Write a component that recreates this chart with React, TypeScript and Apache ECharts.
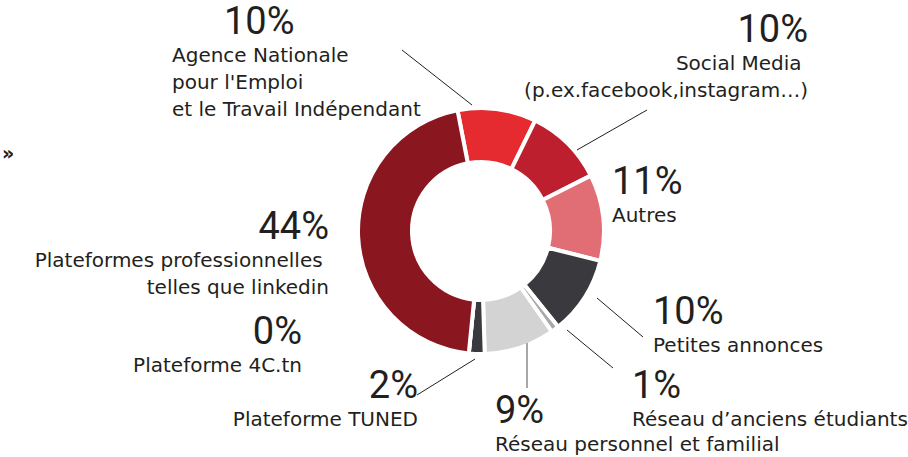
import React, { useEffect, useRef } from 'react';
import * as echarts from 'echarts';

// ---- data ----
const categories = [
  "Agence Nationale\npour l'Emploi\net le Travail Indépendant",
  "Social Media \n(p.ex.facebook,instagram…)",
  "Autres",
  "Petites annonces",
  "Réseau d’anciens étudiants",
  "Réseau personnel et familial",
  "Plateforme TUNED",
  "Plateforme 4C.tn",
  "Plateformes professionnelles \ntelles que linkedin",
];
const values = [10, 10, 11, 10, 1, 9, 2, 0, 44];

// ---- styles / layout ----
const colors = ['#e52a30', '#bd1f2e', '#e06e74', '#3a393d', '#a8a8a8', '#d2d3d2', '#3a393d', '#8a1620', '#8a1620'];
const labelPos = [
  { x: 172, y: 1, align: 'left', pad: 52 },
  { x: 808, y: 9, align: 'right', pad: 0 },
  { x: 612, y: 161, align: 'left', pad: 0 },
  { x: 653, y: 291, align: 'left', pad: 0 },
  { x: 632, y: 365, align: 'left', pad: 0 },
  { x: 495, y: 390, align: 'left', pad: 0 },
  { x: 418, y: 365, align: 'right', pad: 0 },
  { x: 302, y: 311, align: 'right', pad: 0 },
  { x: 329, y: 206, align: 'right', pad: 0 },
];
const leaderLines = [
  { x1: 402, y1: 50, x2: 472, y2: 105, color: '#231f20', w: 1 },
  { x1: 577, y1: 150, x2: 647, y2: 110, color: '#231f20', w: 1 },
  { x1: 597, y1: 298, x2: 643, y2: 337, color: '#231f20', w: 1 },
  { x1: 567, y1: 330, x2: 613, y2: 368, color: '#231f20', w: 1 },
  { x1: 527, y1: 343, x2: 527, y2: 388, color: '#8a8a8a', w: 1.5 },
  { x1: 417, y1: 395, x2: 475, y2: 359, color: '#231f20', w: 1 },
];

const TEXT = '#231f20';
const PCT_FONT = 'Roboto, "DejaVu Sans Condensed", sans-serif';
const NAME_FONT = '"DejaVu Sans", sans-serif';

export default function App() {
  const ref = useRef<HTMLDivElement>(null);
  useEffect(() => {
    document.body.style.margin = '0';
    const chart = echarts.init(ref.current!, undefined, { renderer: 'svg' });
    const rich: any = {};
    for (const al of ['left', 'right']) {
      rich['p_' + al] = { fontFamily: PCT_FONT, fontSize: 38, fontWeight: 400, lineHeight: 40, color: TEXT, align: al };
      rich['pp_' + al] = { fontFamily: PCT_FONT, fontSize: 38, fontWeight: 400, lineHeight: 40, color: TEXT, align: al, padding: [0, 0, 0, 52] };
      rich['n_' + al] = { fontFamily: NAME_FONT, fontSize: 20, lineHeight: 27, color: TEXT, align: al };
    }
    chart.setOption({
      animation: false,
      backgroundColor: '#ffffff',
      graphic: [
        { type: 'text', left: 2, top: 143, style: { text: '»', fontSize: 19, fontWeight: 'bold', fill: TEXT, fontFamily: NAME_FONT } },
        ...leaderLines.map((l) => ({
          type: 'line',
          shape: { x1: l.x1, y1: l.y1, x2: l.x2, y2: l.y2 },
          style: { stroke: l.color, lineWidth: l.w },
          z: 10,
        })),
      ],
      series: [
        {
          type: 'pie',
          center: [481, 231],
          radius: [69, 123],
          startAngle: 101,
          clockwise: true,
          avoidLabelOverlap: false,
          minShowLabelAngle: 0,
          itemStyle: { borderColor: '#ffffff', borderWidth: 4 },
          emphasis: { disabled: true },
          label: {
            show: true,
            position: 'inside',
            formatter: (p: any) => {
              const pos = labelPos[p.dataIndex];
              const al = pos.align;
              const pk = pos.pad ? 'pp_' + al : 'p_' + al;
              const lines = String(p.name).split('\n').map((s) => `{n_${al}|${s}}`).join('\n');
              return `{${pk}|${p.value}%}\n${lines}`;
            },
            rich,
          },
          labelLine: { show: false },
          labelLayout: (params: any) => {
            const pos = labelPos[params.dataIndex];
            return { x: pos.x, y: pos.y, align: pos.align, verticalAlign: 'top' };
          },
          data: categories.map((name, i) => ({
            name,
            value: values[i],
            itemStyle: { color: colors[i] },
          })),
        },
      ],
    });
    return () => chart.dispose();
  }, []);
  return <div ref={ref} style={{ position: 'fixed', left: 0, top: 0, width: 908, height: 457 }} />;
}
